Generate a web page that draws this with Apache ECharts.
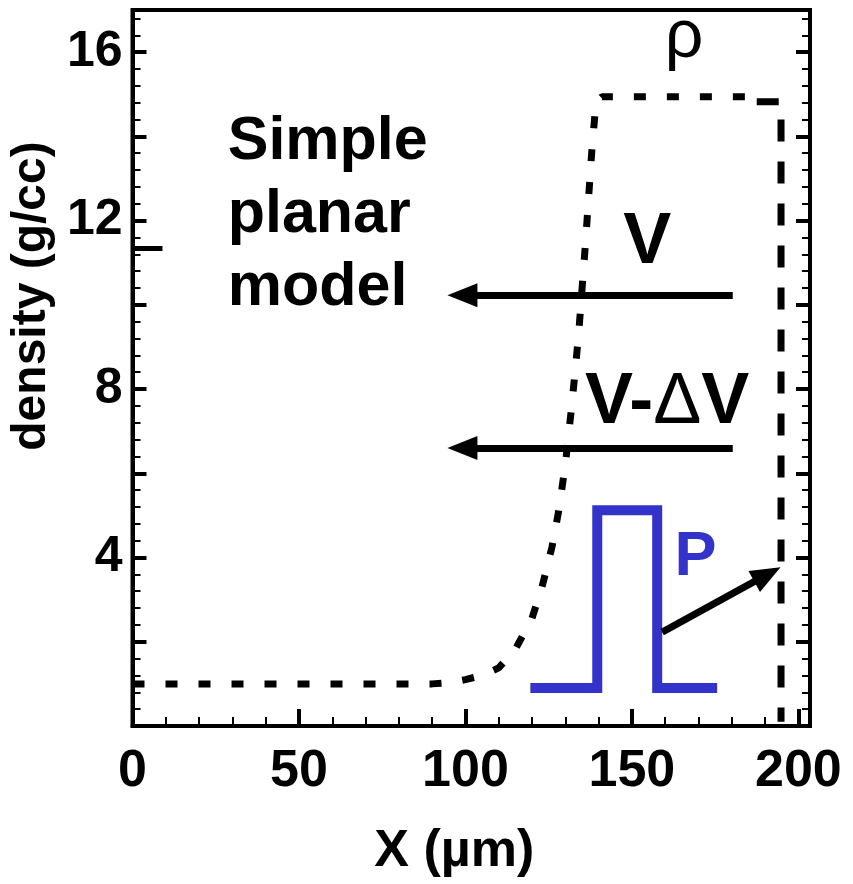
<!DOCTYPE html>
<html><head><meta charset="utf-8">
<script src="https://cdn.jsdelivr.net/npm/echarts@6/dist/echarts.min.js"></script>
<style>html,body{margin:0;padding:0;background:#fff}#c{width:853px;height:884px}</style>
</head><body><div id="c"></div>
<script>
// ---- data ----
const X_MIN = 0, X_MAX = 203.5, Y_MIN = 0, Y_MAX = 17;
// density curve rho (dotted)
const rhoX = [0, 20, 40, 60, 80, 90, 95, 100, 105, 110, 115, 120, 123, 126, 128, 130, 132, 134, 136, 138, 139.2, 141, 150, 160, 170, 180, 186];
const rhoY = [1.0, 1.0, 1.0, 1.0, 1.0, 1.0, 1.03, 1.1, 1.2, 1.38, 1.82, 2.56, 3.3, 4.25, 5.1, 6.2, 7.65, 9.3, 11.4, 13.7, 14.8, 14.94, 14.94, 14.94, 14.94, 14.94, 14.94];
// dashed boundary
const edgeX = [187.5, 194.8, 194.8];
const edgeY = [14.82, 14.82, 0.1];
// blue pressure pulse P
const pulseX = [119.5, 139.6, 139.6, 157.6, 157.6, 175.6];
const pulseY = [0.9, 0.9, 5.12, 5.12, 0.9, 0.9];
// short mark on left axis
const markX = [0, 9];
const markY = [11.34, 11.34];
// arrows: [tailX, tailY, headX, headY]
const arrowV = [180.3, 10.23, 99.1, 10.23];
const arrowDV = [180.3, 6.60, 99.1, 6.60];
const arrowP = [159.1, 2.23, 190.7, 3.60];
// annotation texts and their data positions
const annoText = ['Simple\nplanar\nmodel', 'V', '{b|V-}{d|\u0394}{b|V}', '\u03c1', 'P'];
const annoX = [28.6, 154.6, 160.6, 165.7, 169.1];
const annoY = [12.12, 11.46, 7.66, 16.33, 4.0];
const xTickStep = 50, xMinorStep = 10, yTickStep = 2, yMinorStep = 0.4, yLabelStep = 4;

const zip = (a, b) => a.map((v, i) => [v, b[i]]);
const FONT = 'Liberation Sans, Arial, Helvetica, sans-serif';

const annoStyles = [
  {fontSize: 61, fontWeight: 'bold', color: '#000', align: 'left', lineHeight: 73},
  {fontSize: 72, fontWeight: 'bold', color: '#000'},
  {rich: {b: {fontSize: 72, fontWeight: 'bold', color: '#000', fontFamily: FONT}, d: {fontSize: 72, fontWeight: 'normal', color: '#000', fontFamily: FONT}}},
  {fontSize: 68, fontWeight: 'normal', color: '#000'},
  {fontSize: 63, fontWeight: 'bold', color: '#3333cc'}
];

const annoData = annoText.map((t, i) => ({
  value: [annoX[i], annoY[i]],
  label: Object.assign({show: true, position: 'inside', formatter: t, fontFamily: FONT, verticalAlign: 'middle', opacity: 1}, annoStyles[i])
}));

const arrowLine = a => [{coord: [a[0], a[1]]}, {coord: [a[2], a[3]]}];

const baseX = {type: 'value', min: X_MIN, max: X_MAX, position: 'bottom', splitLine: {show: false}};
const baseY = {type: 'value', min: Y_MIN, max: Y_MAX, splitLine: {show: false}};

const option = {
  animation: false,
  backgroundColor: '#fff',
  grid: {left: 132, right: 43, top: 10, bottom: 158, show: true, borderColor: '#000', borderWidth: 4, backgroundColor: 'transparent'},
  xAxis: [
    Object.assign({}, baseX, {
      interval: xTickStep,
      axisLine: {show: true, lineStyle: {color: '#000', width: 4}},
      axisTick: {show: true, inside: true, length: 17, lineStyle: {color: '#000', width: 4}},
      axisLabel: {show: true, margin: 20, color: '#000', fontSize: 52, fontWeight: 'bold', fontFamily: FONT,
        showMaxLabel: false,
        formatter: v => (Math.abs(v % xTickStep) < 1e-6 ? String(v) : '')},
      name: 'X (\u00b5m)', nameLocation: 'middle', nameGap: 100,
      nameTextStyle: {color: '#000', fontSize: 52, fontWeight: 'bold', fontFamily: FONT, padding: [0, 34, 0, 0]}
    }),
    Object.assign({}, baseX, {
      interval: xMinorStep,
      axisLine: {show: false},
      axisTick: {show: true, inside: true, length: 9, lineStyle: {color: '#000', width: 2}},
      axisLabel: {show: false}
    })
  ],
  yAxis: [
    Object.assign({}, baseY, {
      position: 'left', interval: yTickStep,
      axisLine: {show: true, lineStyle: {color: '#000', width: 4}},
      axisTick: {show: true, inside: true, length: 14, lineStyle: {color: '#000', width: 4}},
      axisLabel: {show: true, margin: 10, color: '#000', fontSize: 50, fontWeight: 'bold', fontFamily: FONT,
        showMaxLabel: false,
        formatter: v => (v > 0 && Math.abs(v % yLabelStep) < 1e-6 ? String(v) : '')},
      name: 'density (g/cc)', nameLocation: 'middle', nameGap: 66,
      nameTextStyle: {color: '#000', fontSize: 48, fontWeight: 'bold', fontFamily: FONT, padding: [0, 0, 0, 144]}
    }),
    Object.assign({}, baseY, {
      position: 'left', interval: yMinorStep,
      axisLine: {show: false},
      axisTick: {show: true, inside: true, length: 8, lineStyle: {color: '#000', width: 2}},
      axisLabel: {show: false}
    }),
    Object.assign({}, baseY, {
      position: 'right', interval: yTickStep,
      axisLine: {show: true, lineStyle: {color: '#000', width: 4}},
      axisTick: {show: true, inside: true, length: 14, lineStyle: {color: '#000', width: 4}},
      axisLabel: {show: false}
    }),
    Object.assign({}, baseY, {
      position: 'right', interval: yMinorStep,
      axisLine: {show: false},
      axisTick: {show: true, inside: true, length: 8, lineStyle: {color: '#000', width: 2}},
      axisLabel: {show: false}
    })
  ],
  series: [
    {type: 'line', data: zip(rhoX, rhoY), showSymbol: false, silent: true,
      lineStyle: {color: '#000', width: 7, type: [12, 21], cap: 'butt'}},
    {type: 'line', data: zip(edgeX, edgeY), showSymbol: false, silent: true,
      lineStyle: {color: '#000', width: 7, type: [22, 20], cap: 'butt', join: 'miter'}},
    {type: 'line', data: zip(pulseX, pulseY), showSymbol: false, silent: true,
      lineStyle: {color: '#3333cc', width: 10, type: 'solid', join: 'miter'}},
    {type: 'line', data: zip(markX, markY), showSymbol: false, silent: true,
      lineStyle: {color: '#000', width: 5, type: 'solid'},
      markLine: {silent: true, animation: false, symbol: ['none', 'triangle'], symbolSize: [24, 30],
        label: {show: false}, emphasis: {disabled: true},
        lineStyle: {color: '#000', width: 7, type: 'solid'},
        data: [arrowLine(arrowV), arrowLine(arrowDV), arrowLine(arrowP)]}},
    {type: 'scatter', data: annoData, symbolSize: 1, silent: true,
      itemStyle: {color: 'rgba(0,0,0,0)', opacity: 1}}
  ]
};

const chart = echarts.init(document.getElementById('c'), null, {renderer: 'canvas'});
chart.setOption(option);
</script>
</body></html>
